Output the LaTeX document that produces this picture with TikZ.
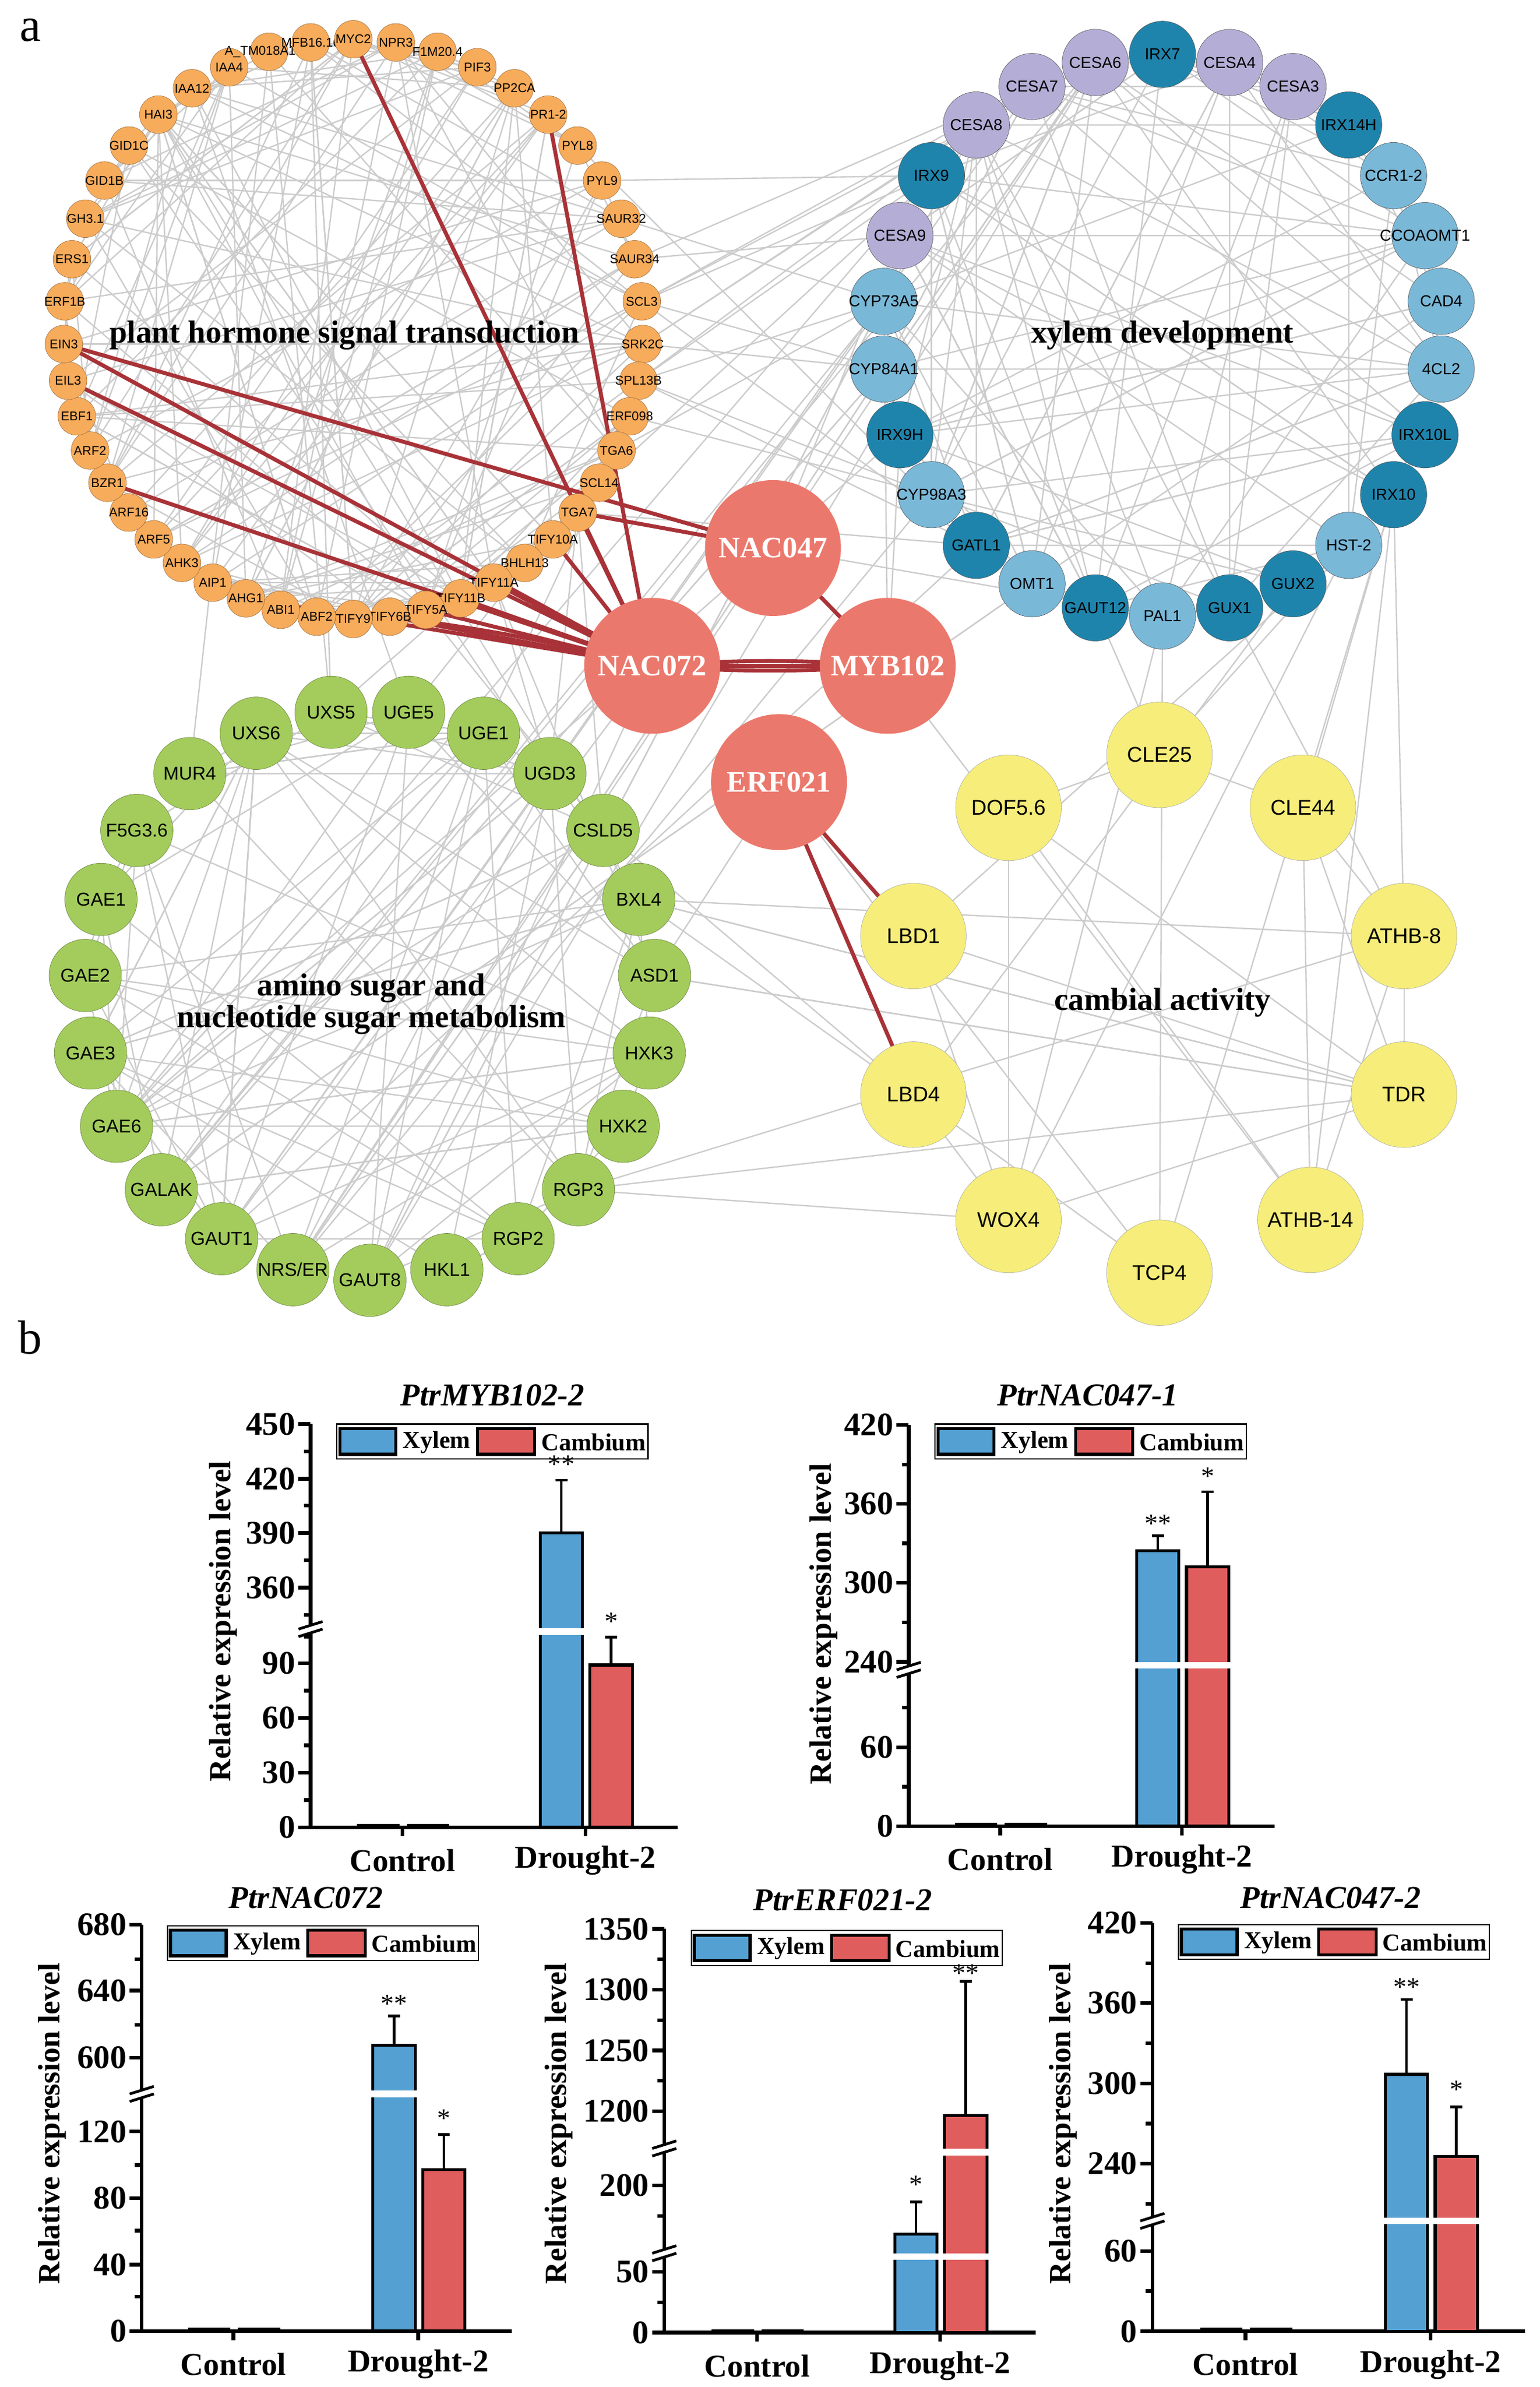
\documentclass[tikz,border=0pt]{standalone}
\usepackage{fontspec}
\setmainfont{Liberation Serif}
\newfontfamily\ar{Liberation Sans}
\newcommand\myfs[1]{\fontsize{#1}{#1}\selectfont}
\pgfdeclarelayer{bg}
\pgfsetlayers{bg,main}
\definecolor{orf}{RGB}{247,172,92}
\definecolor{pur}{RGB}{180,174,214}
\definecolor{dbl}{RGB}{31,132,172}
\definecolor{lbl}{RGB}{122,184,216}
\definecolor{grn}{RGB}{163,204,92}
\definecolor{yel}{RGB}{246,237,122}
\definecolor{hub}{RGB}{235,120,108}
\definecolor{redge}{RGB}{168,50,55}
\definecolor{xb}{RGB}{84,160,211}
\definecolor{cr}{RGB}{224,93,93}
\tikzset{
 on/.style={circle,minimum size=25mm,inner sep=0,fill=orf,draw=orf!60!black,line width=0.6pt,label={[font=\ar\myfs{24},inner sep=0]center:#1}},
 bn/.style={circle,minimum size=44mm,inner sep=0,draw=gray!60!black,line width=0.6pt,label={[font=\ar\myfs{30},inner sep=0]center:#1}},
 gn/.style={circle,minimum size=48mm,inner sep=0,fill=grn,draw=grn!60!black,line width=0.6pt,label={[font=\ar\myfs{35},inner sep=0]center:#1}},
 yn/.style={circle,minimum size=70mm,inner sep=0,fill=yel,draw=gray!70,line width=0.6pt,font=\ar\myfs{40}},
 hn/.style={circle,minimum size=90mm,inner sep=0,fill=hub,text=white,font=\bfseries\myfs{56}},
 grp/.style={font=\bfseries\myfs{60},align=center,inner sep=0},
 ge/.style={gray!40,line width=0.9mm},
 re/.style={redge,line width=2.6mm},
 ax/.style={line width=2.4mm,black},
 bar/.style={line width=2mm,draw=black},
 tl/.style={font=\bfseries\myfs{62},inner sep=0,anchor=east},
 cat/.style={font=\bfseries\myfs{60},inner sep=0},
 ttl/.style={font=\bfseries\itshape\myfs{60},inner sep=0},
 yl/.style={font=\bfseries\myfs{58},rotate=90,inner sep=0},
 lg/.style={font=\bfseries\myfs{46},inner sep=0},
 st/.style={font=\myfs{50},inner sep=0}
}
\newcommand\mybase[7]{%
 \draw[ax] (#2,#5) -- (#2,#4) -- (#3,#4);
 \draw[ax] (#6,#4) -- ++(0,6); \draw[ax] (#7,#4) -- ++(0,6);
 \node[cat] (#1c) at (#6,#4+22) {Control};
 \node[cat] (#1d) at (#7,#4+22) {Drought-2};
 \draw[line width=2.5mm] (#6-30,#4-1) -- (#6-2,#4-1) (#6+3,#4-1) -- (#6+31,#4-1);}
\newcommand\mytick[3]{\draw[ax] (#1,#2) -- ++(-8,0); \node[tl] at (#1-10,#2) {#3};}
\newcommand\mymin[2]{\draw[ax] (#1,#2) -- ++(-4.5,0);}
\newcommand\mybreak[2]{\fill[white] (#1-8,#2) -- (#1+8,#2-5) -- (#1+8,#2) -- (#1-8,#2+5) -- cycle;
 \draw[line width=1.8mm] (#1-8,#2) -- (#1+8,#2-5) (#1-8,#2+5) -- (#1+8,#2);}
\newcommand\mybars[6]{%
 \draw[bar,fill=xb] (#1-30,#2) rectangle (#1-2,#3);
 \draw[bar,fill=cr] (#1+3,#2) rectangle (#1+31,#5);
 \draw[line width=1.8mm] (#1-16,#3) -- (#1-16,#4) (#1-20,#4) -- (#1-12,#4);
 \draw[line width=1.8mm] (#1+17,#5) -- (#1+17,#6) (#1+13,#6) -- (#1+21,#6);}
\newcommand\mywx[2]{\fill[white] (#1-32,#2-2.2) rectangle (#1,#2+2.2);}
\newcommand\mywc[2]{\fill[white] (#1+1,#2-2.2) rectangle (#1+33,#2+2.2);}
\newcommand\mylegend[3]{%
 \draw[line width=0.8mm] (#2,#3) rectangle (#2+206,#3+23);
 \draw[bar,fill=xb] (#2+2,#3+3) rectangle (#2+39,#3+20);
 \node[lg] (#1x) at (#2+66,#3+12) {Xylem};
 \draw[bar,fill=cr] (#2+93,#3+3) rectangle (#2+131,#3+20);
 \node[lg] (#1y) at (#2+170,#3+12) {Cambium};}
\begin{document}
\begin{tikzpicture}[x=1mm,y=-1mm]
\useasboundingbox (0,0) rectangle (1020,1581);
\begin{pgfonlayer}{bg}\fill[white] (0,0) rectangle (1020,1581);\end{pgfonlayer}
\node[font=\myfs{90},inner sep=0] (la) at (20,20) {a};
\node[font=\myfs{90},inner sep=0] (lb) at (20,886) {b};
% ---------- orange ring
\foreach \i/\t in {1/NPR3,2/F1M20.4,3/PIF3,4/PP2CA,5/PR1-2,6/PYL8,7/PYL9,8/SAUR32,9/SAUR34,10/SCL3,11/SRK2C,12/SPL13B,13/ERF098,14/TGA6,15/SCL14,16/TGA7,17/TIFY10A,18/BHLH13,19/TIFY11A,20/TIFY11B,21/TIFY5A,22/TIFY6B,23/TIFY9}{
 \pgfmathsetmacro\a{\i<12 ? 8.45*\i : 93+7.25*(\i-11)}
 \node[on=\t] (o\i) at ({234+192*sin(\a)},{218-192*cos(\a)}) {};}
\foreach \j/\t in {22/ABF2,21/ABI1,20/AHG1,19/AIP1,18/AHK3,17/ARF5,16/ARF16,15/BZR1,14/ARF2,13/EBF1,12/EIL3,11/EIN3,10/ERF1B,9/ERS1,8/GH3.1,7/GID1B,6/GID1C,5/HAI3,4/IAA12,3/IAA4,2/A\_TM018A10.6,1/MFB16.16}{
 \pgfmathsetmacro\a{\j<12 ? -8.45*\j : -93-7.25*(\j-11)}
 \pgfmathtruncatemacro\k{23+\j}
 \node[on=\t] (o\k) at ({234+192*sin(\a)},{218-192*cos(\a)}) {};}
\node[on=MYC2] (o0) at (234,26) {};
% ---------- blue ring
\foreach \i/\t/\c in {0/IRX7/dbl,1/CESA4/pur,2/CESA3/pur,3/IRX14H/dbl,4/CCR1-2/lbl,5/CCOAOMT1/lbl,6/CAD4/lbl,7/4CL2/lbl,8/IRX10L/dbl,9/IRX10/dbl,10/HST-2/lbl,11/GUX2/dbl,12/GUX1/dbl,13/PAL1/lbl,14/GAUT12/dbl,15/OMT1/lbl,16/GATL1/dbl,17/CYP98A3/lbl,18/IRX9H/dbl,19/CYP84A1/lbl,20/CYP73A5/lbl,21/CESA9/pur,22/IRX9/dbl,23/CESA8/pur,24/CESA7/pur,25/CESA6/pur}{
 \pgfmathsetmacro\a{13.846*\i}
 \node[bn=\t,fill=\c] (b\i) at ({770+186*sin(\a)},{222-186*cos(\a)}) {};}
% ---------- green ring
\foreach \i/\t in {0/GAUT8,1/{NRS/ER},2/GAUT1,3/GALAK,4/GAE6,5/GAE3,6/GAE2,7/GAE1,8/F5G3.6,9/MUR4,10/UXS6,11/UXS5,12/UGE5,13/UGE1,14/UGD3,15/CSLD5,16/BXL4,17/ASD1,18/HXK3,19/HXK2,20/RGP3,21/RGP2,22/HKL1}{
 \pgfmathsetmacro\a{180+15.652*\i}
 \node[gn=\t] (g\i) at ({245+189*sin(\a)},{659-189*cos(\a)}) {};}
% ---------- yellow
\node[yn] (y1) at (768,500) {CLE25};
\node[yn] (y2) at (668,535) {DOF5.6};
\node[yn] (y3) at (863,535) {CLE44};
\node[yn] (y4) at (605,620) {LBD1};
\node[yn] (y5) at (930,620) {ATHB-8};
\node[yn] (y6) at (605,725) {LBD4};
\node[yn] (y7) at (930,725) {TDR};
\node[yn] (y8) at (668,808) {WOX4};
\node[yn] (y9) at (868,808) {ATHB-14};
\node[yn] (y10) at (768,843) {TCP4};
% ---------- hubs
\node[hn] (h47) at (512,363) {NAC047};
\node[hn] (h72) at (432,441) {NAC072};
\node[hn] (h102) at (588,441) {MYB102};
\node[hn] (h21) at (516,518) {ERF021};
% ---------- group labels
\node[grp] (t1) at (228,222) {plant hormone signal transduction};
\node[grp] (t2) at (770,222) {xylem development};
\node[grp] (t3) at (246,665) {amino sugar and\\nucleotide sugar metabolism};
\node[grp] (t4) at (770,664) {cambial activity};
% ---------- edges
\begin{pgfonlayer}{bg}
\pgfmathsetseed{11}
\foreach \n in {1,...,170}{\pgfmathrandominteger{\p}{0}{45}\pgfmathrandominteger{\q}{0}{45}\draw[ge] (o\p.center) -- (o\q.center);}
\foreach \n in {1,...,120}{\pgfmathrandominteger{\p}{0}{25}\pgfmathrandominteger{\q}{0}{25}\draw[ge] (b\p.center) -- (b\q.center);}
\foreach \n in {1,...,90}{\pgfmathrandominteger{\p}{0}{22}\pgfmathrandominteger{\q}{0}{22}\draw[ge] (g\p.center) -- (g\q.center);}
\foreach \n in {1,...,22}{\pgfmathrandominteger{\p}{6}{17}\pgfmathrandominteger{\q}{16}{24}\draw[ge] (o\p.center) -- (b\q.center);}
\foreach \n in {1,...,18}{\pgfmathrandominteger{\p}{14}{25}\pgfmathrandominteger{\q}{0}{4}\draw[ge] (b\p.center) -- (g\q.center);}
\foreach \n in {1,...,14}{\pgfmathrandominteger{\p}{14}{34}\pgfmathrandominteger{\q}{9}{17}\draw[ge] (o\p.center) -- (g\q.center);}
\foreach \n in {1,...,12}{\pgfmathrandominteger{\p}{9}{16}\pgfmathrandominteger{\q}{1}{10}\draw[ge] (b\p.center) -- (y\q.center);}
\foreach \n in {1,...,10}{\pgfmathrandominteger{\p}{14}{22}\pgfmathrandominteger{\q}{2}{8}\draw[ge] (g\p.center) -- (y\q.center);}
\foreach \a/\b in {y1/y3,y3/y5,y3/y7,y2/y7,y2/y8,y4/y8,y6/y8,y8/y7,y6/y10,y9/y5,y2/y9,y3/y9,y5/y7,y4/y7,y1/y2}{\draw[ge] (\a.center) -- (\b.center);}
\foreach \a/\b in {h72/g2,h72/g0,h102/b18,h102/b20,h47/b21,h21/g17,h47/b13,h102/y9,h21/y10}{\draw[ge] (\a.center) -- (\b.center);}
\foreach \o in {0,5,34,35,38,16,17,19,20,21,22,43}{\draw[re] (o\o.center) -- (h72.center);}
\draw[re] (o34.center) -- (h47.center);
\draw[re] (o16.center) -- (h47.center);
\draw[re] (o22.center) to[bend left=3] (h72.center);
\draw[re] (h72.center) -- (h102.center);
\draw[re] (h72.center) to[bend left=4] (h102.center);
\draw[re] (h72.center) to[bend right=4] (h102.center);
\draw[re] (h47.center) -- (h102.center);
\draw[re] (h21.center) -- (y4.center);
\draw[re] (h21.center) -- (y6.center);
\end{pgfonlayer}
% ================= charts
\mybase{c1}{205.7}{448.7}{1210.2}{943.2}{266.5}{387.8}
\foreach \y/\l in {943.2/450,979.4/420,1015.3/390,1051.5/360,1101.7/90,1137.9/60,1174.1/30,1210.2/0}{\mytick{205.7}{\y}{\l}}
\foreach \y in {961.3,997.3,1033.4,1069.6,1084.2,1119.8,1156,1192.2}{\mymin{205.7}{\y}}
\mybars{387.8}{1210.2}{1015.3}{980.4}{1102.8}{1084.2}
\mywx{387.8}{1080.6}
\mybreak{205.7}{1079}
\node[st] (c1s1) at (371.8,970) {**};
\node[st] (c1s2) at (404.8,1074) {*};
\mylegend{c1l}{223.2}{943.2}
\node[ttl] (c1t) at (326.1,924) {PtrMYB102-2};
\node[yl] (c1y) at (147.7,1073.8) {Relative expression level};
\mybase{c2}{601.9}{844.2}{1209.5}{943.8}{662.5}{782.9}
\foreach \y/\l in {943.8/420,996.1/360,1048.2/300,1100.7/240,1157.2/60,1209.5/0}{\mytick{601.9}{\y}{\l}}
\foreach \y in {970,1022.2,1074.5,1131,1183.4}{\mymin{601.9}{\y}}
\mybars{782.9}{1209.5}{1027}{1017.1}{1037.9}{988}
\mywx{782.9}{1103}\mywc{782.9}{1103}
\mybreak{601.9}{1106}
\node[st] (c2s1) at (766.9,1009) {**};
\node[st] (c2s2) at (799.9,978) {*};
\mylegend{c2l}{619.4}{943.2}
\node[ttl] (c2t) at (720.5,924) {PtrNAC047-1};
\node[yl] (c2y) at (545.4,1075.6) {Relative expression level};
\mybase{c3}{93.9}{339}{1544}{1274.7}{154.6}{277}
\foreach \y/\l in {1274.7/680,1318.4/640,1362.8/600,1411.8/120,1456/80,1500/40,1544/0}{\mytick{93.9}{\y}{\l}}
\foreach \y in {1297.7,1341,1434,1477.5,1521}{\mymin{93.9}{\y}}
\mybars{277}{1544}{1354.8}{1335.3}{1437}{1413.9}
\mywx{277}{1386.9}
\mybreak{93.9}{1386.9}
\node[st] (c3s1) at (261,1327) {**};
\node[st] (c3s2) at (294,1403) {*};
\mylegend{c3l}{110.9}{1275.4}
\node[ttl] (c3t) at (202.5,1257) {PtrNAC072};
\node[yl] (c3y) at (34.5,1406.6) {Relative expression level};
\mybase{c4}{440}{686}{1545}{1277.6}{501.5}{622.7}
\foreach \y/\l in {1277.6/1350,1317.8/1300,1358.1/1250,1398.4/1200,1447.6/200,1504.7/50,1545/0}{\mytick{440}{\y}{\l}}
\foreach \y in {1297.7,1338,1378.2,1467.8,1524.9}{\mymin{440}{\y}}
\mybars{622.7}{1545}{1479.7}{1458.4}{1401.1}{1312.3}
\mywx{622.7}{1494.6}\mywc{622.7}{1494.6}\mywc{622.7}{1425.3}
\mybreak{440}{1423}\mybreak{440}{1492.4}
\node[st] (c4s1) at (606.7,1447) {*};
\node[st] (c4s2) at (639.7,1307) {**};
\mylegend{c4l}{457.9}{1278.7}
\node[ttl] (c4t) at (558.2,1258.5) {PtrERF021-2};
\node[yl] (c4y) at (370,1406.6) {Relative expression level};
\mybase{c5}{763.3}{1010}{1544.1}{1273.6}{825}{947.6}
\foreach \y/\l in {1273.6/420,1326.7/360,1380.1/300,1433/240,1491/60,1544.1/0}{\mytick{763.3}{\y}{\l}}
\foreach \y in {1300.3,1353.4,1406.5,1459.6,1517.5}{\mymin{763.3}{\y}}
\mybars{947.6}{1544.1}{1373.9}{1324.4}{1428.4}{1395.5}
\mywx{947.6}{1471}\mywc{947.6}{1471}
\mybreak{763.3}{1471}
\node[st] (c5s1) at (931.6,1316) {**};
\node[st] (c5s2) at (964.6,1384) {*};
\mylegend{c5l}{780.5}{1274.7}
\node[ttl] (c5t) at (881.3,1257) {PtrNAC047-2};
\node[yl] (c5y) at (704.2,1406.6) {Relative expression level};
\end{tikzpicture}
\end{document}
